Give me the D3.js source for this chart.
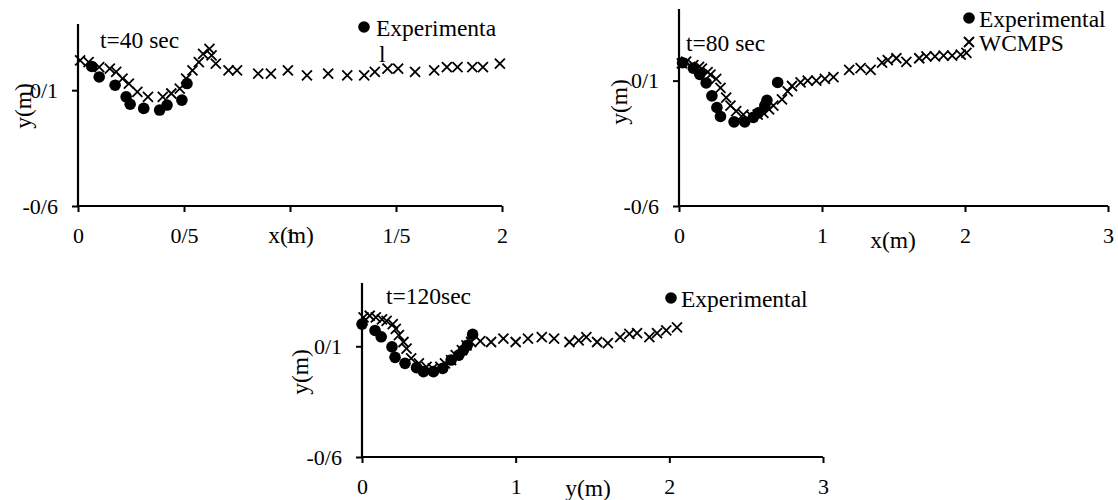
<!DOCTYPE html>
<html><head><meta charset="utf-8">
<script src="https://cdn.jsdelivr.net/npm/d3@7"></script>
<style>
html,body{margin:0;padding:0;background:#fff;}
svg{display:block;font-family:"Liberation Serif","Times New Roman",serif;}
</style></head>
<body><svg id="c" width="1118" height="500"></svg>
<script>
// ---------- data ----------
const p1ExpX = [0.065,0.10,0.175,0.227,0.246,0.31,0.385,0.42,0.49,0.514];
const p1ExpY = [0.243,0.18,0.13,0.06,0.015,-0.01,-0.02,0.01,0.04,0.14];
const p1SimX = [0.01,0.05,0.10,0.15,0.18,0.21,0.24,0.28,0.33,0.40,0.44,0.48,0.51,0.54,0.57,0.59,0.62,0.63,0.65,0.71,0.75,0.85,0.91,0.99,1.08,1.18,1.27,1.35,1.40,1.46,1.51,1.59,1.68,1.74,1.79,1.86,1.91,1.99];
const p1SimY = [0.28,0.27,0.24,0.23,0.21,0.17,0.14,0.09,0.06,0.06,0.08,0.11,0.17,0.22,0.27,0.32,0.35,0.31,0.26,0.22,0.22,0.20,0.20,0.22,0.19,0.20,0.19,0.19,0.21,0.23,0.23,0.21,0.22,0.24,0.24,0.24,0.24,0.26];

const p2ExpX = [0.025,0.10,0.145,0.19,0.23,0.265,0.29,0.385,0.46,0.52,0.555,0.60,0.615,0.69];
const p2ExpY = [0.20,0.17,0.135,0.087,0.015,-0.05,-0.10,-0.13,-0.13,-0.105,-0.08,-0.04,-0.01,0.09];
const p2SimX = [0.02,0.05,0.10,0.14,0.16,0.20,0.22,0.26,0.29,0.33,0.36,0.40,0.45,0.51,0.55,0.59,0.63,0.66,0.72,0.76,0.79,0.85,0.90,0.96,1.02,1.08,1.19,1.27,1.34,1.42,1.46,1.52,1.59,1.68,1.73,1.79,1.85,1.91,1.97,2.01];
const p2SimY = [0.196,0.206,0.186,0.177,0.167,0.148,0.133,0.11,0.06,0.005,-0.04,-0.07,-0.09,-0.10,-0.09,-0.08,-0.06,-0.04,-0.005,0.04,0.07,0.09,0.10,0.10,0.11,0.12,0.16,0.17,0.16,0.20,0.215,0.225,0.205,0.225,0.235,0.235,0.24,0.24,0.245,0.255];

const p3ExpX = [0.00,0.085,0.125,0.195,0.215,0.28,0.355,0.40,0.465,0.525,0.58,0.63,0.66,0.685,0.72];
const p3ExpY = [0.24,0.20,0.16,0.096,0.03,-0.008,-0.035,-0.06,-0.06,-0.04,0.013,0.044,0.075,0.106,0.175];
const p3SimX = [0.01,0.05,0.09,0.13,0.16,0.20,0.22,0.24,0.27,0.29,0.32,0.37,0.42,0.46,0.51,0.54,0.58,0.61,0.65,0.68,0.71,0.77,0.84,0.92,1.00,1.08,1.17,1.25,1.35,1.41,1.46,1.53,1.60,1.68,1.74,1.79,1.87,1.92,1.98,2.05];
const p3SimY = [0.283,0.293,0.283,0.27,0.26,0.24,0.21,0.17,0.127,0.085,0.023,-0.008,-0.03,-0.04,-0.03,-0.008,0.013,0.044,0.075,0.106,0.127,0.133,0.127,0.148,0.127,0.148,0.158,0.148,0.127,0.137,0.158,0.127,0.12,0.158,0.179,0.183,0.158,0.183,0.2,0.22];

const yTicks = [-0.6, 0.1];
const yTickLabels = ["-0/6", "0/1"];
const xTicks1 = [0, 0.5, 1, 1.5, 2];
const xTickLabels1 = ["0", "0/5", "1", "1/5", "2"];
const xTicks23 = [0, 1, 2, 3];
const xTickLabels23 = ["0", "1", "2", "3"];
const titles = ["t=40 sec", "t=80 sec", "t=120sec"];
const xAxisTitles = ["x(m)", "x(m)", "y(m)"];
const yAxisTitle = "y(m)";
const legendExp = "Experimental";
const legendSim = "WCMPS";

// ---------- drawing ----------
const svg = d3.select("#c");
const FS = 22;   // tick labels
const TS = 23.5; // titles / legends / axis titles

function drawPanel(cfg) {
  const x = d3.scaleLinear().domain(cfg.xDomain).range([cfg.left, cfg.right]);
  const y = d3.scaleLinear().domain([-0.6, 0.5]).range([cfg.bottom, cfg.top]);
  const g = svg.append("g");

  const xa = d3.axisBottom(x).tickValues(cfg.xTicks)
    .tickFormat((d, i) => cfg.xLabels[i]).tickSizeOuter(0).tickSize(6).tickPadding(15);
  const gx = g.append("g").attr("transform", `translate(0,${cfg.bottom})`).call(xa);
  const ya = d3.axisLeft(y).tickValues(yTicks)
    .tickFormat((d, i) => yTickLabels[i]).tickSizeOuter(0).tickSize(6).tickPadding(14);
  const gy = g.append("g").attr("transform", `translate(${cfg.left},0)`).call(ya);
  [gx, gy].forEach(a => {
    a.select(".domain").attr("stroke", "#000").attr("stroke-width", 2.2);
    a.selectAll(".tick line").attr("stroke", "#000").attr("stroke-width", 2);
    a.selectAll(".tick text").attr("fill", "#000").attr("font-size", FS)
      .attr("font-family", "Liberation Serif, Times New Roman, serif");
  });
  gx.select(".domain").attr("d", `M${cfg.left},0H${cfg.right}`);
  gy.select(".domain").attr("d", `M0,${cfg.top}V${cfg.bottom}`);

  // experimental dots
  const exp = cfg.expX.map((v, i) => [v, cfg.expY[i]]);
  g.append("g").selectAll("circle").data(exp).join("circle")
    .attr("cx", d => x(d[0])).attr("cy", d => y(d[1])).attr("r", 5.8).attr("fill", "#000");
  // WCMPS crosses
  const sim = cfg.simX.map((v, i) => [v, cfg.simY[i]]);
  g.append("g").selectAll("path").data(sim).join("path")
    .attr("transform", d => `translate(${x(d[0])},${y(d[1])})`)
    .attr("d", "M-5,-5L5,5M5,-5L-5,5").attr("stroke", "#000").attr("stroke-width", 1.8).attr("fill", "none");

  // title
  g.append("text").attr("x", cfg.titlePos[0]).attr("y", cfg.titlePos[1])
    .attr("font-size", TS).text(cfg.title);
  // axis titles
  g.append("text").attr("x", cfg.xTitlePos[0]).attr("y", cfg.xTitlePos[1])
    .attr("text-anchor", "middle").attr("font-size", TS).text(cfg.xTitle);
  g.append("text").attr("transform", `translate(${cfg.yTitlePos[0]},${cfg.yTitlePos[1]}) rotate(-90)`)
    .attr("text-anchor", "middle").attr("dominant-baseline", "central").attr("font-size", TS).text(yAxisTitle);

  // legend
  const L = cfg.legend;
  g.append("circle").attr("cx", L.x).attr("cy", L.y).attr("r", 5.8).attr("fill", "#000");
  if (L.wrap) {
    g.append("text").attr("x", L.x + 12).attr("y", L.y + 9).attr("font-size", TS).text(legendExp.slice(0, -1));
    g.append("text").attr("x", L.x + 15).attr("y", L.y + 35).attr("font-size", TS).text(legendExp.slice(-1));
  } else {
    g.append("text").attr("x", L.x + 10).attr("y", L.y + 9).attr("font-size", TS).text(legendExp);
  }
  if (L.sim) {
    g.append("path").attr("transform", `translate(${L.x},${L.y + 24})`)
      .attr("d", "M-5,-5L5,5M5,-5L-5,5").attr("stroke", "#000").attr("stroke-width", 2).attr("fill", "none");
    g.append("text").attr("x", L.x + 10).attr("y", L.y + 33).attr("font-size", TS).text(legendSim);
  }
}

drawPanel({
  left: 78, right: 502, top: 24, bottom: 206, xDomain: [0, 2],
  xTicks: xTicks1, xLabels: xTickLabels1,
  expX: p1ExpX, expY: p1ExpY, simX: p1SimX, simY: p1SimY,
  title: titles[0], titlePos: [100, 48],
  xTitle: xAxisTitles[0], xTitlePos: [291, 243], yTitlePos: [23, 106],
  legend: { x: 364, y: 27, wrap: true, sim: false }
});
drawPanel({
  left: 679, right: 1108, top: 9, bottom: 206, xDomain: [0, 3],
  xTicks: xTicks23, xLabels: xTickLabels23,
  expX: p2ExpX, expY: p2ExpY, simX: p2SimX, simY: p2SimY,
  title: titles[1], titlePos: [686, 51],
  xTitle: xAxisTitles[1], xTitlePos: [893, 248], yTitlePos: [619, 102],
  legend: { x: 969, y: 18, wrap: false, sim: true }
});
drawPanel({
  left: 362, right: 823, top: 283, bottom: 457, xDomain: [0, 3],
  xTicks: xTicks23, xLabels: xTickLabels23,
  expX: p3ExpX, expY: p3ExpY, simX: p3SimX, simY: p3SimY,
  title: titles[2], titlePos: [386, 304],
  xTitle: xAxisTitles[2], xTitlePos: [588, 496], yTitlePos: [300, 372],
  legend: { x: 671, y: 298, wrap: false, sim: false }
});
</script>
</body></html>
